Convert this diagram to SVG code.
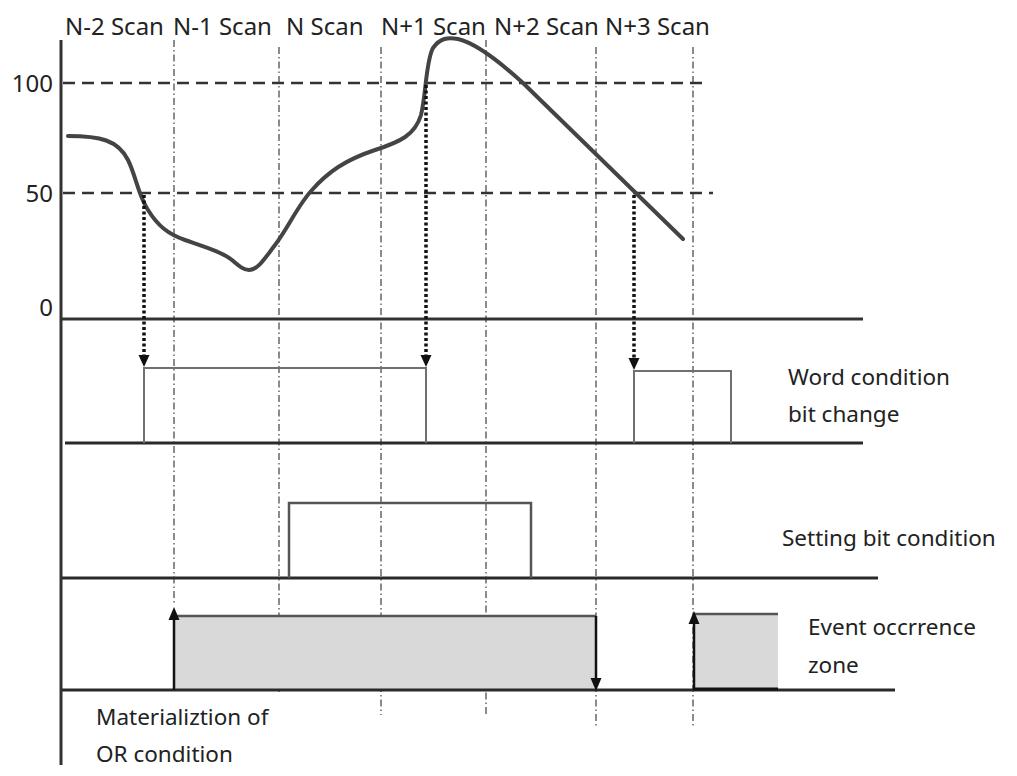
<svg xmlns="http://www.w3.org/2000/svg" width="1017" height="776" viewBox="0 0 1017 776">
<defs>
<style>
text{font-family:"Noto Sans","Liberation Sans",sans-serif;font-size:22.5px;fill:#222}
.big{font-size:24px}
.axis{stroke:#333;stroke-width:3;fill:none}
.base{stroke:#2a2a2a;stroke-width:3;fill:none}
.grid{stroke:#666;stroke-width:1.5;stroke-dasharray:7 3 1.5 3;fill:none}
.thr{stroke:#333;stroke-width:2.5;stroke-dasharray:12 7;fill:none}
.drop{stroke:#111;stroke-width:3.5;stroke-dasharray:3 2.5;fill:none}
.pulse{stroke:#707070;stroke-width:2;fill:none}
.pulse2{stroke:#555;stroke-width:2.5;fill:none}
.curve{stroke:#444;stroke-width:4;fill:none;stroke-linecap:round}
.zone{fill:#d9d9d9;stroke:none}
.arr{stroke:#111;stroke-width:2.5;fill:none}
.head{fill:#111}
</style>
</defs>
<rect width="1017" height="776" fill="#fff"/>
<g id="labels">
<text class="big" x="65" y="35">N-2 Scan</text>
<text class="big" x="173" y="35">N-1 Scan</text>
<text class="big" x="286" y="35">N Scan</text>
<text class="big" x="381" y="35">N+1 Scan</text>
<text class="big" x="494" y="35">N+2 Scan</text>
<text class="big" x="605" y="35">N+3 Scan</text>
<text class="big" x="53" y="92" text-anchor="end">100</text>
<text class="big" x="53" y="202" text-anchor="end">50</text>
<text class="big" x="53" y="316" text-anchor="end">0</text>
</g>
<g id="grid">
<line class="grid" x1="174" y1="40" x2="174" y2="605"/>
<line class="grid" x1="279" y1="47" x2="279" y2="695"/>
<line class="grid" x1="381" y1="47" x2="381" y2="715"/>
<line class="grid" x1="486" y1="40" x2="486" y2="715"/>
<line class="grid" x1="596" y1="47" x2="596" y2="728"/>
<line class="grid" x1="693" y1="47" x2="693" y2="727"/>
<line class="thr" x1="63" y1="83" x2="708" y2="83"/>
<line class="thr" x1="63" y1="193" x2="713" y2="193"/>
</g>
<g id="axes">
<line class="axis" x1="61" y1="40" x2="61" y2="765"/>
<line class="axis" x1="60" y1="319" x2="863" y2="319"/>
</g>
<g id="value-curve">
<path class="curve" d="M68,136 C100,136 118,140 128,160 C136,176 138,195 148,210 C158,226 168,234 185,240 C205,247 222,252 232,260 C240,267 244,270 249,270 C258,270 265,258 275,245 C288,228 298,205 312,190 C328,172 345,160 375,150 C400,142 415,135 421,115 C426,95 426,60 433,48 C440,38 448,37 458,39 C475,43 500,62 523,83 L683,239"/>
</g>
<g id="word-condition">
<line class="base" x1="65" y1="443" x2="863" y2="443"/>
<path class="pulse" d="M144,443 V368 H426 V443"/>
<path class="pulse" d="M634,443 V371 H731 V443"/>
<text x="788" y="385">Word condition</text>
<text x="788" y="422">bit change</text>
</g>
<g id="setting-bit">
<line class="base" x1="62" y1="578" x2="878" y2="578"/>
<path class="pulse2" d="M289,578 V503 H531 V578"/>
<text x="782" y="546">Setting bit condition</text>
</g>
<g id="event-zone">
<rect class="zone" x="174" y="616" width="422" height="74"/>
<rect class="zone" x="694" y="614" width="84" height="76"/>
<line class="pulse2" x1="174" y1="616" x2="596" y2="616"/>
<line class="pulse2" x1="694" y1="614" x2="778" y2="614"/>
<line class="base" x1="62" y1="690" x2="895" y2="690"/>
<line x1="694" y1="689" x2="778" y2="689" stroke="#111" stroke-width="3"/>
<text x="808" y="635">Event occrrence</text>
<text x="808" y="673">zone</text>
<text x="96" y="725">Materializtion of</text>
<text x="96" y="762">OR condition</text>
</g>
<g id="connectors">
<line class="drop" x1="144" y1="195" x2="144" y2="355"/>
<polygon class="head" points="138.5,355 149.5,355 144,367"/>
<line class="drop" x1="426" y1="85" x2="426" y2="355"/>
<polygon class="head" points="420.5,355 431.5,355 426,367"/>
<line class="drop" x1="634" y1="195" x2="634" y2="358"/>
<polygon class="head" points="628.5,358 639.5,358 634,370"/>
<line class="arr" x1="174" y1="690" x2="174" y2="618"/>
<polygon class="head" points="168.5,620 179.5,620 174,607"/>
<line class="arr" x1="596" y1="616" x2="596" y2="680"/>
<polygon class="head" points="590.5,678 601.5,678 596,691"/>
<line class="arr" x1="694" y1="690" x2="694" y2="622"/>
<polygon class="head" points="688.5,624 699.5,624 694,611"/>
</g>
</svg>
